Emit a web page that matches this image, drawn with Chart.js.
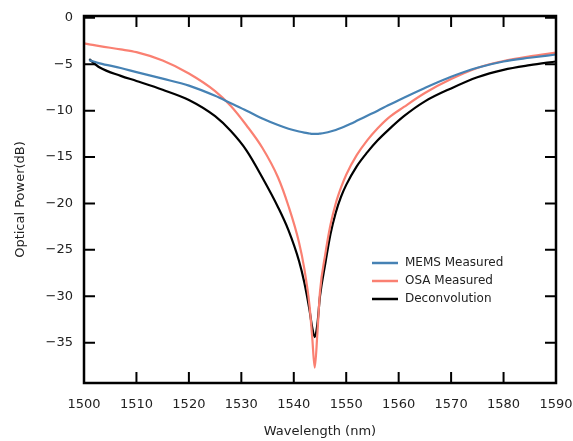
<!DOCTYPE html>
<html>
<head>
<meta charset="utf-8">
<script src="https://cdn.jsdelivr.net/npm/chart.js@4"></script>
<style>
  html, body { margin: 0; padding: 0; background: #fff; }
  #wrap { width: 573px; height: 441px; }
</style>
</head>
<body>
<div id="wrap"><canvas id="chartSpectre"></canvas></div>
<script>
// wavelengths (nm) shared by the three curves
const wavelength = [1500, 1501, 1503, 1507, 1510, 1515, 1520, 1525, 1528, 1531, 1534, 1537, 1539, 1541, 1542, 1543, 1543.5, 1544, 1544.5, 1545, 1546, 1547, 1548, 1549, 1550, 1552, 1554, 1556, 1558, 1561, 1565, 1570, 1575, 1580, 1585, 1590];

const memsMeasured = [null, -4.55, -4.9, -5.4, -5.85, -6.55, -7.3, -8.4, -9.2, -10.0, -10.85, -11.55, -11.95, -12.25, -12.37, -12.46, -12.5, -12.5, -12.5, -12.47, -12.38, -12.25, -12.08, -11.87, -11.63, -11.1, -10.55, -10.0, -9.42, -8.6, -7.55, -6.35, -5.38, -4.7, -4.3, -3.95];

const osaMeasured = [-2.75, -2.85, -3.05, -3.4, -3.7, -4.6, -6.0, -7.9, -9.5, -11.6, -14.0, -17.2, -20.3, -24.2, -27.0, -31.0, -34.3, -37.7, -34.0, -29.5, -25.5, -22.3, -20.0, -18.3, -16.9, -14.8, -13.2, -11.9, -10.8, -9.6, -8.1, -6.6, -5.4, -4.65, -4.15, -3.75];

const deconvolution = [null, -4.45, -5.35, -6.25, -6.8, -7.75, -8.85, -10.6, -12.2, -14.3, -17.2, -20.4, -22.9, -26.2, -28.5, -31.5, -33.3, -34.4, -33.0, -30.0, -26.5, -23.3, -21.0, -19.3, -18.0, -16.0, -14.5, -13.2, -12.1, -10.6, -9.0, -7.6, -6.4, -5.6, -5.1, -4.7];

const xTicks = { min: 1500, max: 1590, step: 10 };
const yTicks = { min: -39.35, max: 0.2, step: 5 };

const toPoints = vals => wavelength.map((w, i) => ({ x: w, y: vals[i] }));
const minus = v => String(v).replace('-', '\u2212');

// ticks pointing inwards on all four sides + frame + legend inside the plot
const cadreTicks = {
  id: 'cadreTicks',
  afterDraw(chart) {
    const { ctx, chartArea: a, scales: { x, y } } = chart;
    const len = 11;
    ctx.save();
    ctx.strokeStyle = '#000';
    ctx.lineWidth = 2;
    ctx.beginPath();
    x.ticks.forEach(t => {
      const px = x.getPixelForValue(t.value);
      ctx.moveTo(px, a.bottom); ctx.lineTo(px, a.bottom - len);
      ctx.moveTo(px, a.top); ctx.lineTo(px, a.top + len);
    });
    y.ticks.forEach(t => {
      const py = y.getPixelForValue(t.value);
      ctx.moveTo(a.left, py); ctx.lineTo(a.left + len, py);
      ctx.moveTo(a.right, py); ctx.lineTo(a.right - len, py);
    });
    ctx.stroke();
    ctx.lineWidth = 2.5;
    ctx.strokeRect(a.left, a.top, a.right - a.left, a.bottom - a.top);

    // legende
    const lx = a.left + 288, ly = a.top + 247;
    ctx.font = '12px "DejaVu Sans"';
    ctx.textBaseline = 'middle';
    chart.data.datasets.forEach((ds, i) => {
      const yy = ly + i * 18;
      ctx.strokeStyle = ds.borderColor;
      ctx.lineWidth = 2.5;
      ctx.beginPath();
      ctx.moveTo(lx, yy); ctx.lineTo(lx + 26, yy);
      ctx.stroke();
      ctx.fillStyle = '#222';
      ctx.fillText(ds.label, lx + 33, yy);
    });
    ctx.restore();
  }
};

const ctxSpectre = document.getElementById('chartSpectre');
new Chart(ctxSpectre, {
  type: 'line',
  data: {
    datasets: [{
      label: 'MEMS Measured',
      data: toPoints(memsMeasured),
      borderColor: '#4682b4',
      borderWidth: 2.2,
      pointRadius: 0,
      cubicInterpolationMode: 'monotone'
    }, {
      label: 'OSA Measured',
      data: toPoints(osaMeasured),
      borderColor: '#fa8072',
      borderWidth: 2.2,
      pointRadius: 0,
      cubicInterpolationMode: 'monotone'
    }, {
      label: 'Deconvolution',
      data: toPoints(deconvolution),
      borderColor: '#000000',
      borderWidth: 2.2,
      pointRadius: 0,
      cubicInterpolationMode: 'monotone'
    }]
  },
  options: {
    responsive: true,
    maintainAspectRatio: false,
    animation: false,
    layout: { padding: { top: 16, right: 17, left: 0, bottom: 0 } },
    plugins: { legend: { display: false }, tooltip: { enabled: false } },
    scales: {
      x: {
        type: 'linear',
        min: xTicks.min,
        max: xTicks.max,
        afterFit: s => { s.height = 58; s.paddingLeft = 0; s.paddingRight = 0; },
        grid: { display: false, drawTicks: false },
        border: { display: false },
        ticks: { stepSize: xTicks.step, padding: 14, color: '#222', font: { family: 'DejaVu Sans', size: 13 }, callback: v => String(v) },
        title: { display: true, text: 'Wavelength (nm)', color: '#222', font: { family: 'DejaVu Sans', size: 13 }, padding: { top: 0, bottom: 2 } }
      },
      y: {
        min: yTicks.min,
        max: yTicks.max,
        afterFit: s => { s.width = 84; s.paddingTop = 0; s.paddingBottom = 0; },
        grid: { display: false, drawTicks: false },
        border: { display: false },
        ticks: { stepSize: yTicks.step, includeBounds: false, padding: 11, color: '#222', font: { family: 'DejaVu Sans', size: 13 }, callback: v => minus(v) },
        title: { display: true, text: 'Optical Power(dB)', color: '#222', font: { family: 'DejaVu Sans', size: 13 }, padding: { top: 13, bottom: 13 } }
      }
    }
  },
  plugins: [cadreTicks]
});
</script>
</body>
</html>
